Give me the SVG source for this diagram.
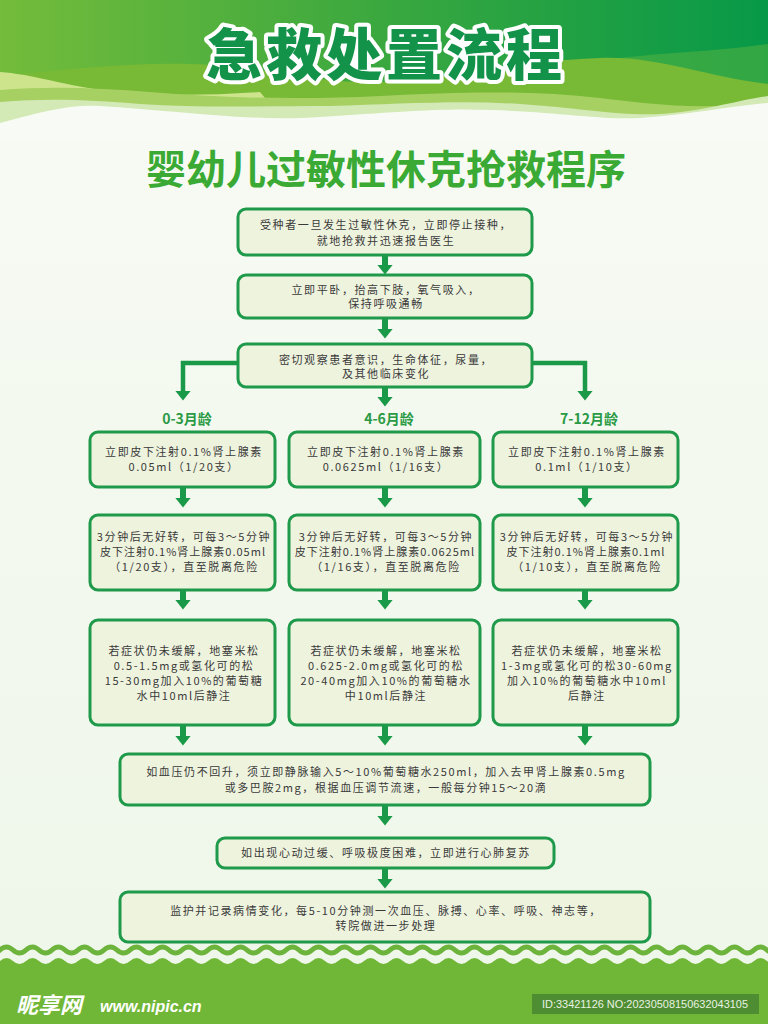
<svg xmlns="http://www.w3.org/2000/svg" width="768" height="1024" viewBox="0 0 768 1024">
<defs>
  <linearGradient id="hdr" x1="0" y1="0" x2="1" y2="0">
    <stop offset="0" stop-color="#74bc3b"/>
    <stop offset="0.5" stop-color="#3aa83f"/>
    <stop offset="1" stop-color="#079948"/>
  </linearGradient>
  <linearGradient id="bg" x1="0" y1="0" x2="0" y2="1">
    <stop offset="0" stop-color="#f8fbf5"/>
    <stop offset="1" stop-color="#eef6e9"/>
  </linearGradient>
  <pattern id="wave" x="0" y="940" width="26" height="30" patternUnits="userSpaceOnUse">
    <path d="M-13,10 Q-6.5,16 0,10 Q6.5,4 13,10 T26,10 T39,10" stroke="#6db43c" stroke-width="5" fill="none"/>
    <path d="M-13,21 Q-6.5,27 0,21 Q6.5,15 13,21 T26,21 T39,21 V30 H-13 Z" fill="#71b737"/>
  </pattern>
  <marker id="ah" viewBox="0 0 10 16" markerWidth="10" markerHeight="16" refX="0.5" refY="8" orient="auto" markerUnits="userSpaceOnUse">
    <path d="M0,0 L10,8 L0,16 Z" fill="#1a9a49"/>
  </marker>
  <style>
    .box { fill: #eef3de; stroke: #1f9a4b; stroke-width: 3; }
    .t { font-family: "Noto Sans CJK SC", "Noto Sans", sans-serif; font-size: 11px; fill: #3a3a3a; text-anchor: middle; letter-spacing: 1.6px; }
    .tn { letter-spacing: 1px; }
    .lbl { font-family: "Noto Sans CJK SC", "Noto Sans", sans-serif; font-size: 14px; font-weight: bold; fill: #2a9a45; text-anchor: middle; }
    .conn { stroke: #1a9a49; stroke-width: 6; fill: none; marker-end: url(#ah); }
    .elbow { stroke: #1a9a49; stroke-width: 4.5; fill: none; marker-end: url(#ah); }
  </style>
</defs>

<!-- background -->
<rect x="0" y="0" width="768" height="1024" fill="url(#bg)"/>

<!-- header -->
<g id="header">
  <rect x="0" y="0" width="768" height="130" fill="url(#hdr)"/>
  <path d="M560,70 C620,52 680,56 768,44 V95 C720,96 660,84 600,78 Z" fill="#4fb043" opacity="0.6"/>
  <path d="M0,76 C60,70 130,62 190,64 C260,66 300,80 360,82 C440,84 520,60 600,58 C660,56 710,78 768,84 V140 H0 Z" fill="#78b936"/>
  <path d="M0,72 C30,74 60,84 100,90 C150,96 200,96 260,92 L300,140 L0,140 Z" fill="#cde48c"/>
  <path d="M0,90 C50,86 100,88 150,92 C220,98 300,100 380,96 C460,92 530,90 600,98 C650,104 710,112 768,100 V140 H0 Z" fill="#a6d062"/>
  <path d="M0,102 C50,98 90,100 140,104 C200,108 260,106 330,106 C400,104 460,100 520,104 C580,108 620,116 660,114 C700,112 740,100 768,96 V140 H0 Z" fill="#d3e9b6"/>
  <path d="M0,123 C40,112 70,104 100,106 C170,110 250,122 320,117 C400,112 440,108 490,110 C560,112 600,120 640,118 C690,115 730,106 768,103 V140 H0 Z" fill="#f8fbf5"/>
  <text x="386" y="75" text-anchor="middle" font-family="'Noto Sans CJK SC', sans-serif" font-size="56" font-weight="900" letter-spacing="4" fill="#13934a" stroke="#ffffff" stroke-width="8" stroke-linejoin="round" paint-order="stroke">急救处置流程</text>
</g>

<text x="386" y="184" text-anchor="middle" font-family="'Noto Sans CJK SC', sans-serif" font-size="40" font-weight="bold" fill="#3aaa35">婴幼儿过敏性休克抢救程序</text>

<!-- connectors -->
<g id="connectors">
  <line class="conn" x1="385" y1="256" x2="385" y2="265"/>
  <line class="conn" x1="385" y1="319" x2="385" y2="329"/>
  <line class="conn" x1="385" y1="388" x2="385" y2="397"/>
  <path class="elbow" d="M238,363 H183 V391"/>
  <path class="elbow" d="M532,363 H585 V391"/>
  <line class="conn" x1="183" y1="488" x2="183" y2="498"/>
  <line class="conn" x1="385" y1="488" x2="385" y2="498"/>
  <line class="conn" x1="585" y1="488" x2="585" y2="498"/>
  <line class="conn" x1="183" y1="591" x2="183" y2="600"/>
  <line class="conn" x1="385" y1="591" x2="385" y2="600"/>
  <line class="conn" x1="585" y1="591" x2="585" y2="600"/>
  <line class="conn" x1="183" y1="726" x2="183" y2="736"/>
  <line class="conn" x1="385" y1="726" x2="385" y2="736"/>
  <line class="conn" x1="585" y1="726" x2="585" y2="736"/>
  <line class="conn" x1="385" y1="806" x2="385" y2="816"/>
  <line class="conn" x1="385" y1="869" x2="385" y2="879"/>
</g>

<!-- nodes -->
<g id="n1">
  <rect class="box" x="238" y="209" width="294" height="46" rx="8"/>
  <text class="t" x="386" y="229">受种者一旦发生过敏性休克，立即停止接种，</text>
  <text class="t" x="386" y="245">就地抢救并迅速报告医生</text>
</g>
<g id="n2">
  <rect class="box" x="238" y="275" width="294" height="43" rx="8"/>
  <text class="t" x="386" y="294">立即平卧，抬高下肢，氧气吸入，</text>
  <text class="t" x="386" y="308">保持呼吸通畅</text>
</g>
<g id="n3">
  <rect class="box" x="238" y="344" width="294" height="43" rx="8"/>
  <text class="t" x="386" y="364">密切观察患者意识，生命体征，尿量，</text>
  <text class="t" x="386" y="378">及其他临床变化</text>
</g>

<g id="labels">
  <text class="lbl" x="187" y="424">0-3月龄</text>
  <text class="lbl" x="389" y="424">4-6月龄</text>
  <text class="lbl" x="589" y="424">7-12月龄</text>
</g>

<g id="a1">
  <rect class="box" x="90" y="432" width="185" height="55" rx="8"/>
  <text class="t" x="184" y="456">立即皮下注射0.1%肾上腺素</text>
  <text class="t" x="184" y="471">0.05ml（1/20支）</text>
</g>
<g id="b1">
  <rect class="box" x="289" y="432" width="191" height="55" rx="8"/>
  <text class="t" x="386" y="456">立即皮下注射0.1%肾上腺素</text>
  <text class="t" x="386" y="471">0.0625ml（1/16支）</text>
</g>
<g id="c1">
  <rect class="box" x="493" y="432" width="185" height="55" rx="8"/>
  <text class="t" x="587" y="456">立即皮下注射0.1%肾上腺素</text>
  <text class="t" x="587" y="471">0.1ml（1/10支）</text>
</g>

<g id="a2">
  <rect class="box" x="90" y="515" width="185" height="75" rx="8"/>
  <text class="t" x="184" y="541">3分钟后无好转，可每3～5分钟</text>
  <text class="t tn" x="183" y="556">皮下注射0.1%肾上腺素0.05ml</text>
  <text class="t" x="184" y="571">（1/20支），直至脱离危险</text>
</g>
<g id="b2">
  <rect class="box" x="289" y="515" width="191" height="75" rx="8"/>
  <text class="t" x="386" y="541">3分钟后无好转，可每3～5分钟</text>
  <text class="t tn" x="385" y="556">皮下注射0.1%肾上腺素0.0625ml</text>
  <text class="t" x="386" y="571">（1/16支），直至脱离危险</text>
</g>
<g id="c2">
  <rect class="box" x="493" y="515" width="185" height="75" rx="8"/>
  <text class="t" x="587" y="541">3分钟后无好转，可每3～5分钟</text>
  <text class="t tn" x="586" y="556">皮下注射0.1%肾上腺素0.1ml</text>
  <text class="t" x="587" y="571">（1/10支），直至脱离危险</text>
</g>

<g id="a3">
  <rect class="box" x="90" y="620" width="185" height="105" rx="8"/>
  <text class="t" x="184" y="655">若症状仍未缓解，地塞米松</text>
  <text class="t" x="184" y="670">0.5-1.5mg或氢化可的松</text>
  <text class="t" x="184" y="685">15-30mg加入10%的葡萄糖</text>
  <text class="t" x="184" y="700">水中10ml后静注</text>
</g>
<g id="b3">
  <rect class="box" x="289" y="620" width="191" height="105" rx="8"/>
  <text class="t" x="386" y="655">若症状仍未缓解，地塞米松</text>
  <text class="t" x="386" y="670">0.625-2.0mg或氢化可的松</text>
  <text class="t" x="386" y="685">20-40mg加入10%的葡萄糖水</text>
  <text class="t" x="386" y="700">中10ml后静注</text>
</g>
<g id="c3">
  <rect class="box" x="493" y="620" width="185" height="105" rx="8"/>
  <text class="t" x="587" y="655">若症状仍未缓解，地塞米松</text>
  <text class="t" x="587" y="670">1-3mg或氢化可的松30-60mg</text>
  <text class="t" x="587" y="685">加入10%的葡萄糖水中10ml</text>
  <text class="t" x="587" y="700">后静注</text>
</g>

<g id="n4">
  <rect class="box" x="120" y="754" width="530" height="51" rx="8"/>
  <text class="t" x="386" y="776">如血压仍不回升，须立即静脉输入5～10%葡萄糖水250ml，加入去甲肾上腺素0.5mg</text>
  <text class="t" x="386" y="792">或多巴胺2mg，根据血压调节流速，一般每分钟15～20滴</text>
</g>
<g id="n5">
  <rect class="box" x="217" y="838" width="337" height="30" rx="8"/>
  <text class="t" x="386" y="857">如出现心动过缓、呼吸极度困难，立即进行心肺复苏</text>
</g>
<g id="n6">
  <rect class="box" x="120" y="892" width="530" height="50" rx="8"/>
  <text class="t" x="386" y="915">监护并记录病情变化，每5-10分钟测一次血压、脉搏、心率、呼吸、神志等，</text>
  <text class="t" x="386" y="930">转院做进一步处理</text>
</g>

<!-- footer -->
<g id="footer">
  <rect x="0" y="940" width="768" height="30" fill="url(#wave)"/>
  <rect x="0" y="969" width="768" height="55" fill="#71b737"/>
  <text x="16" y="1013" font-family="'Noto Sans CJK SC', sans-serif" font-size="22" font-weight="bold" font-style="italic" fill="#ffffff">昵享网</text>
  <text x="100" y="1012" font-family="'Liberation Sans', sans-serif" font-size="16" font-weight="bold" font-style="italic" fill="#ffffff">www.nipic.cn</text>
  <rect x="532" y="994" width="227" height="20" fill="#4f8d32"/>
  <text x="542" y="1008" font-family="'Liberation Sans', sans-serif" font-size="11" fill="#e9f2e2" textLength="206" lengthAdjust="spacingAndGlyphs">ID:33421126 NO:20230508150632043105</text>
</g>
</svg>
